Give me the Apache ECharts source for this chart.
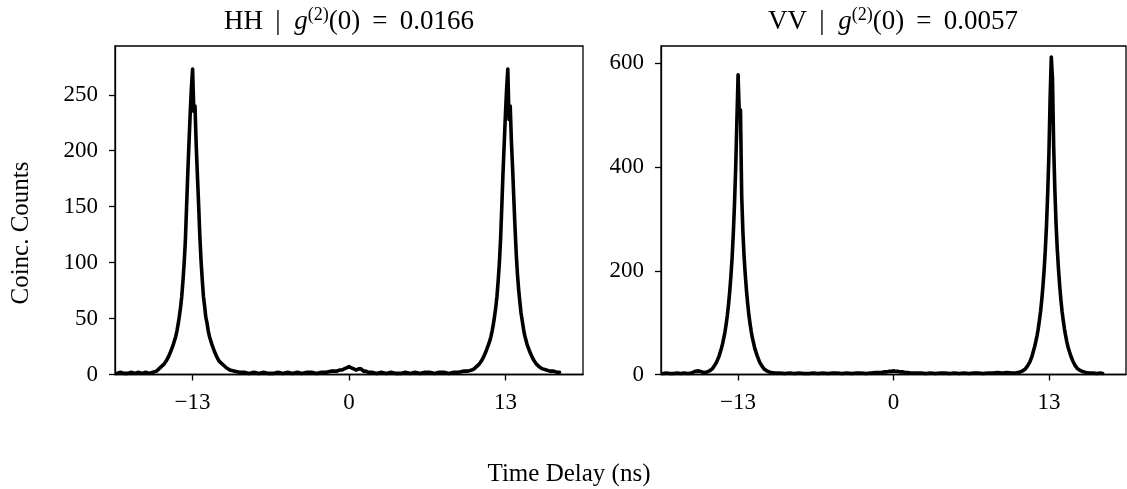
<!DOCTYPE html>
<html>
<head>
<meta charset="utf-8">
<script src="https://cdn.jsdelivr.net/npm/echarts@6.0.0/dist/echarts.min.js"></script>
<style>
  html, body { margin: 0; padding: 0; background: #fff; }
  #chart { width: 1127px; height: 489px; }
</style>
</head>
<body>
<div id="chart"></div>
<script>
// time delay (ns) shared by both panels
var delayNs = [
  -19.3, -19.0, -18.7, -18.4, -18.1, -17.8, -17.5, -17.2, -16.9, -16.6, -16.3, -16.0,
  -15.8, -15.6, -15.4, -15.2, -15.0, -14.8, -14.6, -14.4,
  -14.3, -14.2, -14.1, -14.0, -13.9, -13.8, -13.7, -13.6, -13.5, -13.4, -13.3, -13.2, -13.1, -13.0,
  -12.9, -12.8, -12.7, -12.6, -12.5, -12.4, -12.3, -12.2, -12.1, -12.0, -11.9, -11.8, -11.7,
  -11.6, -11.4, -11.2, -11.0, -10.8, -10.6, -10.4, -10.2,
  -9.9, -9.5, -9.1, -8.7, -8.3, -7.9, -7.5, -7.1, -6.7, -6.3, -5.9, -5.5, -5.1, -4.7, -4.3, -3.9,
  -3.5, -3.1, -2.7, -2.3, -1.9, -1.5,
  -1.2, -1.0, -0.8, -0.6, -0.4, -0.2, 0.0, 0.2, 0.4, 0.6, 0.8, 1.0, 1.2, 1.4, 1.6,
  1.9, 2.3, 2.7, 3.1, 3.5, 3.9, 4.3, 4.7, 5.1, 5.5, 5.9, 6.3, 6.7, 7.1, 7.5, 7.9, 8.3, 8.7, 9.1, 9.5, 9.9,
  10.2, 10.4, 10.6, 10.8, 11.0, 11.2, 11.4, 11.6,
  11.7, 11.8, 11.9, 12.0, 12.1, 12.2, 12.3, 12.4, 12.5, 12.6, 12.7, 12.8, 12.9, 13.0, 13.1,
  13.2, 13.3, 13.4, 13.5, 13.6, 13.7, 13.8, 13.9, 14.0, 14.1, 14.2, 14.3, 14.4, 14.5, 14.6,
  14.8, 15.0, 15.2, 15.4, 15.6, 15.8,
  16.1, 16.4, 16.7, 17.0, 17.3, 17.5
];

var hhCounts = [
  1, 2, 1, 1, 2, 1, 2, 1, 2, 1, 2, 3,
  5, 7, 9, 12, 16, 21, 27, 34,
  39, 45, 52, 60, 70, 84, 100, 120, 150, 180, 207, 233, 256, 273,
  235, 240, 205, 178, 152, 124, 102, 85, 70, 61, 51, 46, 39,
  34, 27, 21, 16, 12, 10, 8, 6,
  4, 3, 2, 2, 1, 2, 1, 2, 1, 1, 2, 1, 2, 1, 2, 1,
  2, 2, 1, 2, 2, 3,
  3, 3, 4, 4, 5, 6, 7, 6, 5, 4, 5, 5, 3, 3, 2,
  2, 1, 2, 1, 2, 1, 1, 2, 1, 2, 1, 2, 2, 1, 2, 2, 1, 2, 2, 3, 3,
  4, 5, 7, 9, 12, 16, 21, 27,
  30, 34, 39, 45, 52, 60, 70, 84, 100, 121, 150, 180, 206, 232, 255,
  273, 228, 240, 208, 184, 157, 131, 108, 90, 76, 65, 55, 48, 41, 35,
  27, 21, 16, 12, 9, 7,
  5, 4, 3, 3, 2, 2
];

var vvCounts = [
  2, 3, 2, 2, 3, 2, 3, 2, 3, 6, 7, 5,
  4, 5, 7, 10, 16, 24, 35, 50,
  59, 70, 82, 97, 114, 135, 160, 190, 226, 272, 330, 400, 490, 578,
  500, 510, 345, 276, 228, 192, 162, 137, 115, 98, 83, 70, 60,
  50, 36, 24, 16, 10, 7, 5, 4,
  3, 3, 2, 3, 2, 3, 2, 2, 3, 2, 3, 2, 3, 3, 2, 3,
  2, 3, 3, 2, 3, 4,
  4, 4, 5, 5, 6, 6, 7, 6, 6, 5, 5, 4, 4, 3, 3,
  3, 3, 2, 3, 2, 3, 3, 2, 3, 2, 3, 2, 3, 3, 2, 3, 3, 4, 3, 4, 3,
  3, 4, 5, 7, 10, 16, 24, 36,
  45, 53, 63, 74, 87, 103, 121, 143, 170, 201, 240, 288, 350, 424, 530,
  612, 570, 440, 355, 290, 242, 204, 172, 145, 122, 104, 88, 75, 63, 53,
  38, 26, 17, 11, 8, 6,
  4, 3, 3, 2, 3, 2
];

var xTicks = [-13, 0, 13];
var hhTicks = [0, 50, 100, 150, 200, 250];
var vvTicks = [0, 200, 400, 600];
var panelNames = ['HH', 'VV'];
var g2Values = ['0.0166', '0.0057'];

var FONT = 'Liberation Serif';
var TICK_FS = 23;
var LABEL_FS = 25;
var TITLE_FS = 27;

function fmtTick(v) { return v < 0 ? '\u2212' + Math.abs(v) : String(v); }

function xAxisFor(idx) {
  return {
    type: 'value', gridIndex: idx, min: -19.45, max: 19.45,
    axisLine: { show: true, onZero: false, lineStyle: { color: '#000', width: 1.3 } },
    axisTick: { show: true, inside: false, length: 6, customValues: xTicks, lineStyle: { color: '#000', width: 1.3 } },
    axisLabel: { customValues: xTicks, formatter: fmtTick, color: '#000', fontFamily: FONT, fontSize: TICK_FS, margin: 17 },
    splitLine: { show: false }
  };
}

function yAxisFor(idx, max, ticks) {
  return {
    type: 'value', gridIndex: idx, min: 0, max: max,
    axisLine: { show: true, onZero: false, lineStyle: { color: '#000', width: 1.3 } },
    axisTick: { show: true, inside: false, length: 6, customValues: ticks, lineStyle: { color: '#000', width: 1.3 } },
    axisLabel: { customValues: ticks, color: '#000', fontFamily: FONT, fontSize: TICK_FS, margin: 17 },
    splitLine: { show: false }
  };
}

function lineSeries(idx, counts) {
  return {
    type: 'line', xAxisIndex: idx, yAxisIndex: idx,
    showSymbol: false, animation: false,
    lineStyle: { color: '#000', width: 3.6, join: 'round', cap: 'round' },
    data: delayNs.map(function (t, i) { return [t, counts[i]]; })
  };
}

var titleRich = {
  n: { fontFamily: FONT, fontSize: TITLE_FS, color: '#000', lineHeight: 32 },
  i: { fontFamily: FONT, fontSize: TITLE_FS, fontStyle: 'italic', color: '#000', lineHeight: 32 },
  s: { fontFamily: FONT, fontSize: 18, color: '#000', verticalAlign: 'top', lineHeight: 19 }
};

function titleText(name, g2) {
  return '{n|' + name + '\u2009 |  }{i|g}{s|(2)}{n|(0)\u2009 = \u2009' + g2 + '}';
}

var chart = echarts.init(document.getElementById('chart'), null, { renderer: 'canvas' });
chart.setOption({
  animation: false,
  backgroundColor: '#fff',
  grid: [
    { left: 115, top: 46, width: 468, bottom: 114.5, show: true, borderColor: '#000', borderWidth: 1.3, outerBoundsMode: 'none' },
    { left: 661, top: 46, width: 465, bottom: 114.5, show: true, borderColor: '#000', borderWidth: 1.3, outerBoundsMode: 'none' }
  ],
  xAxis: [xAxisFor(0), xAxisFor(1)],
  yAxis: [yAxisFor(0, 293.6, hhTicks), yAxisFor(1, 633.4, vvTicks)],
  series: [lineSeries(0, hhCounts), lineSeries(1, vvCounts)],
  graphic: [
    { type: 'text', x: 349, y: 22, style: { text: titleText(panelNames[0], g2Values[0]), rich: titleRich, align: 'center', verticalAlign: 'middle' } },
    { type: 'text', x: 893, y: 22, style: { text: titleText(panelNames[1], g2Values[1]), rich: titleRich, align: 'center', verticalAlign: 'middle' } },
    { type: 'text', x: 21, y: 233, rotation: Math.PI / 2, style: { text: 'Coinc. Counts', font: LABEL_FS + 'px "' + FONT + '"', fill: '#000', align: 'center', verticalAlign: 'middle' } },
    { type: 'text', x: 569, y: 474, style: { text: 'Time Delay (ns)', font: LABEL_FS + 'px "' + FONT + '"', fill: '#000', align: 'center', verticalAlign: 'middle' } }
  ]
});
</script>
</body>
</html>
